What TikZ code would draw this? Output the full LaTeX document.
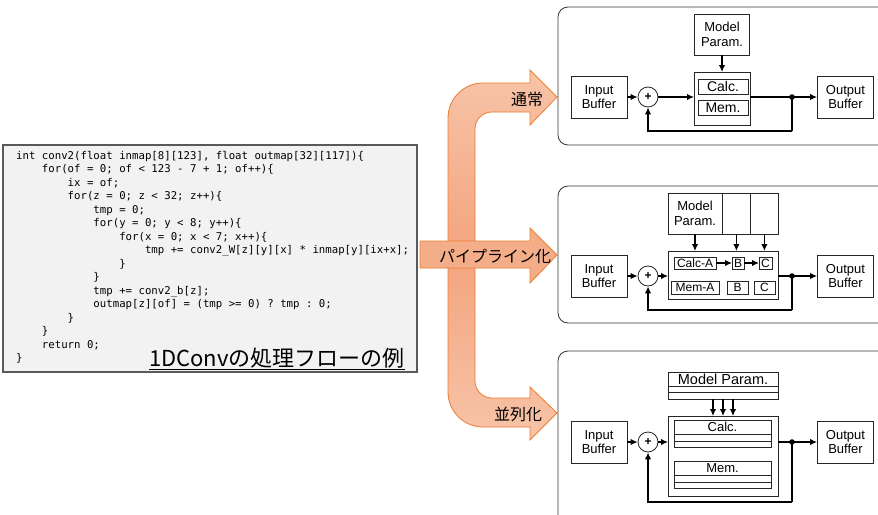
\documentclass[tikz,border=0pt]{standalone}
\usepackage{fontspec}
\setmainfont{Liberation Sans}
\setmonofont{DejaVu Sans Mono}
\newfontfamily\jpfont{Noto Sans CJK JP}
\usetikzlibrary{positioning, arrows.meta, calc}

\definecolor{arrowedge}{HTML}{ED7D31}
\definecolor{arrowlight}{HTML}{F7C4A8}
\definecolor{arrowdark}{HTML}{F3A47E}
\definecolor{arrowmid}{HTML}{F4AD89}
\definecolor{codefill}{HTML}{F2F2F2}
\definecolor{codeedge}{HTML}{595959}

\newcommand{\tb}{\hspace*{2.408em}}

\begin{document}
\begin{tikzpicture}[x=1pt, y=-1pt,
    buf/.style={draw=black!85, line width=0.8pt, minimum width=56pt, minimum height=42pt, inner sep=0pt, align=center, font=\fontsize{13}{14.5}\selectfont},
    blk/.style={draw=black!85, line width=0.8pt, inner sep=0pt, outer sep=0pt},
    cell/.style={blk, font=\fontsize{12}{12}\selectfont},
    sumc/.style={circle, draw=black!85, line width=0.8pt, minimum size=20pt, inner sep=0pt, font=\bfseries\fontsize{12}{12}\selectfont},
    conn/.style={line width=1.8pt, -{Latex[length=7pt, width=6.5pt]}},
    wire/.style={line width=1.8pt},
    panel/.style={draw=black!80, line width=0.8pt, rounded corners=10pt},
    bracket/.style={draw=arrowedge, line width=0.8pt, top color=arrowlight, bottom color=arrowlight, middle color=arrowdark},
    midarrow/.style={draw=arrowedge, line width=0.8pt, fill=arrowmid},
    lbl/.style={font=\jpfont\fontsize{16}{16}\selectfont}
]
    \clip (0,0) rectangle (878,514);
    \fill[white] (0,0) rectangle (878,514);

    % === Code ===
    \draw[fill=codefill, draw=codeedge, line width=1.5pt] (3,145) rectangle (417,372);
    \node[anchor=north west, inner sep=0pt, align=left, font=\ttfamily\fontsize{10.7}{13.5}\selectfont] (code) at (16,151) {%
int conv2(float inmap[8][123], float outmap[32][117])\{\\
\tb for(of = 0; of < 123 - 7 + 1; of++)\{\\
\tb\tb ix = of;\\
\tb\tb for(z = 0; z < 32; z++)\{\\
\tb\tb\tb tmp = 0;\\
\tb\tb\tb for(y = 0; y < 8; y++)\{\\
\tb\tb\tb\tb for(x = 0; x < 7; x++)\{\\
\tb\tb\tb\tb\tb tmp += conv2\_W[z][y][x] * inmap[y][ix+x];\\
\tb\tb\tb\tb \}\\
\tb\tb\tb \}\\
\tb\tb\tb tmp += conv2\_b[z];\\
\tb\tb\tb outmap[z][of] = (tmp >= 0) ? tmp : 0;\\
\tb\tb \}\\
\tb \}\\
\tb return 0;\\
\}};
    \node[anchor=base, inner sep=0pt, font=\jpfont\fontsize{22}{22}\selectfont] (title) at (277,366) {\underline{1DConvの処理フローの例}};

    % === Orange arrows ===
    \draw[bracket] (557,97) -- (530,125) -- (530,112) -- (492,112)
        .. controls (482.6,112) and (475,119.6) .. (475,129) -- (475,381)
        .. controls (475,390.4) and (482.6,398) .. (492,398) -- (530,398) -- (530,387)
        -- (557,413) -- (530,440) -- (530,427) -- (483,427)
        .. controls (463.7,427) and (448,411.3) .. (448,392) -- (448,118)
        .. controls (448,98.7) and (463.7,83) .. (483,83) -- (530,83) -- (530,70) -- cycle;
    \draw[midarrow] (420,241) -- (530,241) -- (530,228) -- (557,255) -- (530,283) -- (530,268) -- (420,268) -- cycle;
    \node[lbl] (lnorm) at (527,99) {通常};
    \node[lbl] (lpipe) at (495,256) {パイプライン化};
    \node[lbl] (lpar) at (518,414) {並列化};

    % === Normal ===
    \draw[panel] (558,7) rectangle (900,145);
    \node[buf] (in1) at (599,97) {Input\\Buffer};
    \node[sumc] (sum1) at (648,97) {+};
    \node[blk, minimum width=56pt, minimum height=53pt] (core1) at (722,98.5) {};
    \node[cell, minimum width=50pt, minimum height=15pt, font=\fontsize{14}{14}\selectfont] (calc1) at (723,86.5) {Calc.};
    \node[cell, minimum width=50pt, minimum height=15pt, font=\fontsize{14}{14}\selectfont] (mem1) at (723,107.5) {Mem.};
    \node[buf, minimum width=55pt, minimum height=41pt] (par1) at (722,34.5) {Model\\Param.};
    \node[buf] (out1) at (845.5,97) {Output\\Buffer};
    \coordinate (dot1) at (792,97);
    \coordinate (fb1) at (792,131);
    \draw[conn] (in1) -- (sum1);
    \draw[conn] (sum1) -- (sum1 -| core1.west);
    \draw[conn] (par1) -- (core1);
    \draw[conn] (core1.east |- dot1) -- (out1);
    \draw[wire] (dot1) -- (fb1);
    \draw[conn] (fb1) -| (sum1);
    \fill (dot1) circle (2.8);

    % === Pipeline ===
    \draw[panel] (558,186) rectangle (900,323);
    \node[buf] (in2) at (599,276) {Input\\Buffer};
    \node[sumc] (sum2) at (648,276) {+};
    \node[blk, minimum width=110pt, minimum height=48pt] (core2) at (723,275) {};
    \node[cell, minimum width=42pt, minimum height=12pt] (calcA) at (695,263) {Calc-A};
    \node[cell, minimum width=12pt, minimum height=12pt] (calcB) at (738,263) {B};
    \node[cell, minimum width=13pt, minimum height=12pt] (calcC) at (765.5,263) {C};
    \node[cell, minimum width=48pt, minimum height=13pt] (memA) at (695,287.5) {Mem-A};
    \node[cell, minimum width=21pt, minimum height=13pt] (memB) at (737.5,287.5) {B};
    \node[cell, minimum width=21pt, minimum height=13pt] (memC) at (764.5,287.5) {C};
    \node[buf, minimum width=54pt, minimum height=41pt] (par2) at (695,213.5) {Model\\Param.};
    \node[blk, minimum width=28pt, minimum height=41pt, anchor=west] (par2b) at (par2.east) {};
    \node[blk, minimum width=28pt, minimum height=41pt, anchor=west] (par2c) at (par2b.east) {};
    \node[buf] (out2) at (845.5,276) {Output\\Buffer};
    \coordinate (dot2) at (792,276);
    \coordinate (fb2) at (792,310);
    \draw[conn] (par2.south) -- (par2.south |- core2.north);
    \draw[conn] (par2b.south) -- (par2b.south |- core2.north);
    \draw[conn] (par2c.south) -- (par2c.south |- core2.north);
    \draw[conn] (calcA) -- (calcB);
    \draw[conn] (calcB) -- (calcC);
    \draw[conn] (in2) -- (sum2);
    \draw[conn] (sum2) -- (sum2 -| core2.west);
    \draw[conn] (core2.east |- dot2) -- (out2);
    \draw[wire] (dot2) -- (fb2);
    \draw[conn] (fb2) -| (sum2);
    \fill (dot2) circle (2.8);

    % === Parallel ===
    \draw[panel] (558,351) rectangle (900,540);
    \node[buf] (in3) at (599,442) {Input\\Buffer};
    \node[sumc] (sum3) at (648,442) {+};
    \node[blk, minimum width=110pt, minimum height=80pt] (core3) at (723,456) {};
    \node[cell, minimum width=110pt, minimum height=14pt, font=\fontsize{14.5}{14.5}\selectfont] (par3) at (723,379) {Model Param.};
    \node[cell, minimum width=110pt, minimum height=6pt, anchor=north] (par3r2) at (par3.south) {};
    \node[cell, minimum width=110pt, minimum height=7pt, anchor=north] (par3r3) at (par3r2.south) {};
    \node[cell, minimum width=97pt, minimum height=14pt, font=\fontsize{13}{13}\selectfont] (calc3) at (722.5,427) {Calc.};
    \node[cell, minimum width=97pt, minimum height=7pt, anchor=north] (calc3r2) at (calc3.south) {};
    \node[cell, minimum width=97pt, minimum height=6pt, anchor=north] (calc3r3) at (calc3r2.south) {};
    \node[cell, minimum width=97pt, minimum height=14pt, font=\fontsize{13}{13}\selectfont] (mem3) at (722.5,468) {Mem.};
    \node[cell, minimum width=97pt, minimum height=7pt, anchor=north] (mem3r2) at (mem3.south) {};
    \node[cell, minimum width=97pt, minimum height=6pt, anchor=north] (mem3r3) at (mem3r2.south) {};
    \node[buf] (out3) at (845.5,442) {Output\\Buffer};
    \coordinate (dot3) at (792,442);
    \coordinate (fb3) at (792,502);
    \foreach \dx in {-10,0,10}
        \draw[conn] ([xshift=\dx pt]par3r3.south) -- ([xshift=\dx pt]par3r3.south |- core3.north);
    \draw[conn] (in3) -- (sum3);
    \draw[conn] (sum3) -- (sum3 -| core3.west);
    \draw[conn] (core3.east |- dot3) -- (out3);
    \draw[wire] (dot3) -- (fb3);
    \draw[conn] (fb3) -| (sum3);
    \fill (dot3) circle (2.8);

\end{tikzpicture}
\end{document}
